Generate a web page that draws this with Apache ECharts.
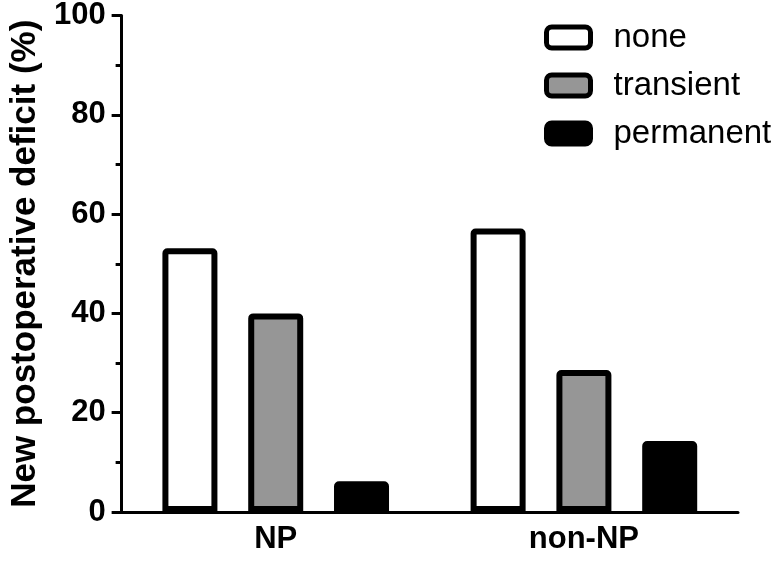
<!DOCTYPE html>
<html>
<head>
<meta charset="utf-8">
<script src="https://cdn.jsdelivr.net/npm/echarts@6/dist/echarts.min.js"></script>
<style>html,body{margin:0;padding:0;background:#fff}#c{width:774px;height:562px}</style>
</head>
<body>
<div id="c"></div>
<script>
var categories = ['NP', 'non-NP'];
var seriesNames = ['none', 'transient', 'permanent'];
var noneValues = [53.1, 57.1];
var transientValues = [40.0, 28.6];
var permanentValues = [6.2, 14.3];
var yTicks = [0, 20, 40, 60, 80, 100];
var fills = ['#ffffff', '#969696', '#000000'];
var FONT = 'Arial, "Liberation Sans", sans-serif';

var chart = echarts.init(document.getElementById('c'), null, {renderer: 'canvas'});
var values = [noneValues, transientValues, permanentValues];
var series = seriesNames.map(function (name, i) {
  return {
    name: name,
    type: 'bar',
    data: values[i],
    barWidth: 55,
    barGap: '56%',
    itemStyle: {color: fills[i], borderColor: '#000', borderWidth: 6, borderRadius: [2, 2, 0, 0]},
    emphasis: {disabled: true}
  };
});
chart.setOption({
  animation: false,
  backgroundColor: '#fff',
  grid: {left: 106, right: 36, top: 14, bottom: 50, containLabel: false},
  legend: {
    orient: 'vertical',
    left: 539,
    top: 16,
    itemWidth: 44,
    itemHeight: 21,
    itemGap: 15,
    icon: 'roundRect',
    itemStyle: {borderColor: '#000', borderWidth: 5},
    textStyle: {fontFamily: FONT, fontSize: 33, color: '#000', padding: [0, 0, 0, 18]},
    data: seriesNames
  },
  xAxis: {
    type: 'category',
    data: categories,
    axisLine: {lineStyle: {color: '#000', width: 3}},
    axisTick: {alignWithLabel: true, length: 11, lineStyle: {color: '#000', width: 3}},
    axisLabel: {fontFamily: FONT, fontSize: 31, fontWeight: 'bold', color: '#000', margin: 12}
  },
  yAxis: {
    type: 'value',
    min: yTicks[0],
    max: yTicks[yTicks.length - 1],
    interval: 20,
    name: 'New postoperative deficit (%)',
    nameLocation: 'middle',
    nameGap: 67,
    nameTextStyle: {fontFamily: FONT, fontSize: 35, fontWeight: 'bold', color: '#000'},
    axisLine: {show: true, lineStyle: {color: '#000', width: 3}},
    axisTick: {show: true, length: 10, lineStyle: {color: '#000', width: 3}},
    minorTick: {show: true, splitNumber: 2, length: 6, lineStyle: {color: '#000', width: 3}},
    splitLine: {show: false},
    axisLabel: {fontFamily: FONT, fontSize: 31, fontWeight: 'bold', color: '#000', margin: 16}
  },
  series: series
});
</script>
</body>
</html>
